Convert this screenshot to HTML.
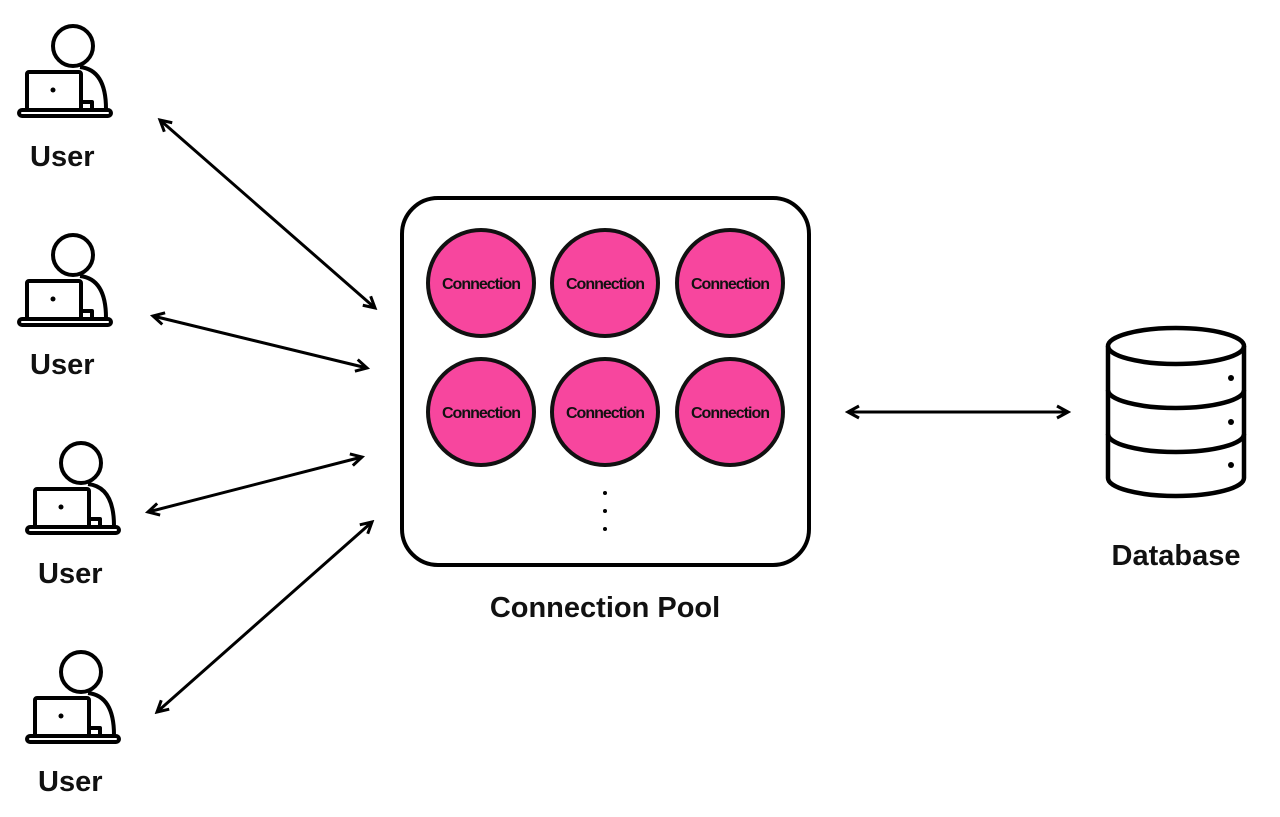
<!DOCTYPE html>
<html><head><style>body{margin:0;background:#fff}svg{display:block}</style></head><body>
<svg width="1280" height="817" viewBox="0 0 1280 817" xmlns="http://www.w3.org/2000/svg">
<defs>
<marker id="a" viewBox="0 0 16 16" refX="13" refY="8" markerWidth="16" markerHeight="16" markerUnits="userSpaceOnUse" orient="auto-start-reverse">
<path d="M2,2 L13,8 L2,14" fill="none" stroke="#000" stroke-width="3"/></marker>
<g id="u" fill="none" stroke="#000" stroke-width="4" stroke-linejoin="round">
<circle cx="55" cy="22" r="20"/>
<path d="M62,43 C80,45 88,60 88,85 L88,88"/>
<rect x="9" y="48" width="54" height="38" rx="2" fill="#fff"/>
<circle cx="35" cy="66" r="2.5" fill="#000" stroke="none"/>
<path d="M63,78 L74,78 L74,86"/>
<rect x="1" y="86" width="92" height="6" rx="3" fill="#fff"/>
</g>
</defs>
<g font-family="Liberation Sans, sans-serif" font-weight="bold" font-size="29" fill="#111">
<use href="#u" x="18" y="24"/><text x="30" y="166">User</text>
<use href="#u" x="18" y="233"/><text x="30" y="374">User</text>
<use href="#u" x="26" y="441"/><text x="38" y="583">User</text>
<use href="#u" x="26" y="650"/><text x="38" y="791">User</text>
<text x="605" y="617" text-anchor="middle">Connection Pool</text>
<text x="1176" y="565" text-anchor="middle">Database</text>
</g>
<g stroke="#000" stroke-width="3" marker-start="url(#a)" marker-end="url(#a)">
<line x1="160" y1="120" x2="375" y2="308"/>
<line x1="153" y1="316" x2="367" y2="368"/>
<line x1="148" y1="512" x2="362" y2="457"/>
<line x1="157" y1="712" x2="372" y2="522"/>
<line x1="848" y1="412" x2="1068" y2="412"/>
</g>
<rect x="402" y="198" width="407" height="367" rx="36" fill="#fff" stroke="#000" stroke-width="4"/>
<g fill="#f7469e" stroke="#111" stroke-width="4">
<circle cx="481" cy="283" r="53"/><circle cx="605" cy="283" r="53"/><circle cx="730" cy="283" r="53"/>
<circle cx="481" cy="412" r="53"/><circle cx="605" cy="412" r="53"/><circle cx="730" cy="412" r="53"/>
</g>
<g font-family="Liberation Sans, sans-serif" font-size="16" font-weight="bold" fill="#111" text-anchor="middle" letter-spacing="-1">
<text x="481" y="289">Connection</text><text x="605" y="289">Connection</text><text x="730" y="289">Connection</text>
<text x="481" y="418">Connection</text><text x="605" y="418">Connection</text><text x="730" y="418">Connection</text>
</g>
<g fill="#000"><circle cx="605" cy="493" r="2"/><circle cx="605" cy="511" r="2"/><circle cx="605" cy="529" r="2"/></g>
<g fill="none" stroke="#000" stroke-width="4.5">
<ellipse cx="1176" cy="346" rx="68" ry="18"/>
<path d="M1108,346 L1108,478 A68,18 0 0 0 1244,478 L1244,346"/>
<path d="M1108,390 A68,18 0 0 0 1244,390"/>
<path d="M1108,434 A68,18 0 0 0 1244,434"/>
</g>
<g fill="#000"><circle cx="1231" cy="378" r="3"/><circle cx="1231" cy="422" r="3"/><circle cx="1231" cy="465" r="3"/></g>
</svg>
</body></html>
